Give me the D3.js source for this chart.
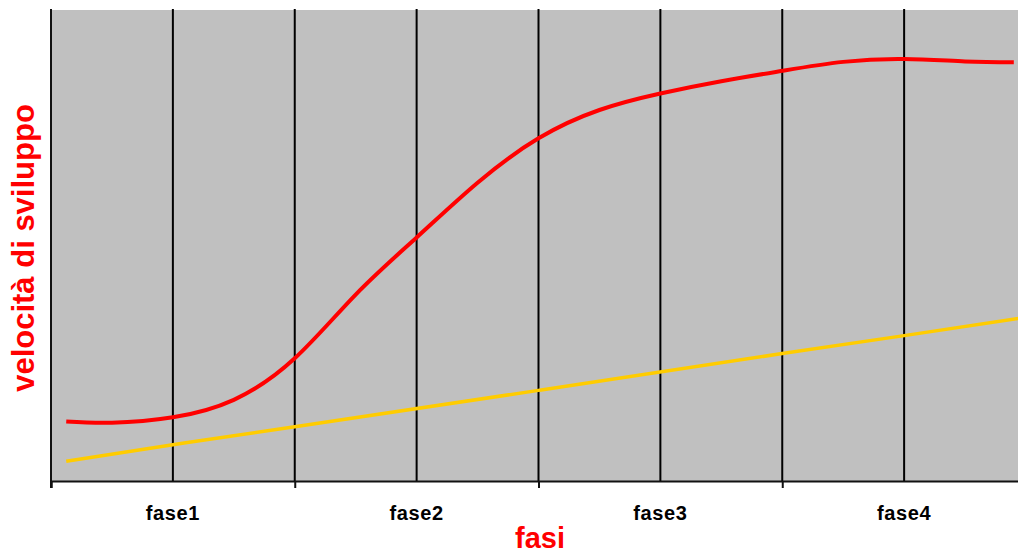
<!DOCTYPE html>
<html>
<head>
<meta charset="utf-8">
<script src="https://cdn.jsdelivr.net/npm/d3@7"></script>
<style>
  html, body { margin: 0; padding: 0; background: #ffffff; overflow: hidden; }
  svg { display: block; }
</style>
</head>
<body>
<svg id="chart" width="1018" height="553"></svg>
<script>
// Phase labels, placed at the middle of each phase band
const phases = ["fase1", "fase2", "fase3", "fase4"];
const phaseCenters = [1, 3, 5, 7];
// Band boundaries (major ticks) and inner grid positions, in half-phase units
const majorTicks = [0, 2, 4, 6];
const gridLines = [1, 2, 3, 4, 5, 6, 7];

// Development speed (red curve)
const speedX = [0.125, 0.5, 1, 1.5, 2, 2.5, 3, 3.5, 4, 4.5, 5, 5.5, 6, 6.5, 7, 7.5, 7.9];
const speedY = [12.6, 12.35, 13.5, 17.2, 26.0, 39.5, 51.6, 63.2, 72.6, 78.6, 82.1, 84.7, 86.9, 88.8, 89.4, 88.9, 88.7];

// Reference trend (yellow line)
const trendX = [0.125, 1, 2, 4, 6, 7, 8];
const trendY = [4.2, 7.7, 11.5, 19.2, 27.0, 30.8, 34.7];

const svg = d3.select("#chart");
const plotLeft = 51, plotRight = 1026, plotTop = 9, plotBottom = 481;

const x = d3.scaleLinear().domain([0, 8]).range([plotLeft, plotRight]);
const y = d3.scaleLinear().domain([0, 100]).range([plotBottom, plotTop]);

// Plot background
svg.append("rect")
  .attr("x", plotLeft).attr("y", plotTop + 1)
  .attr("width", plotRight - plotLeft).attr("height", plotBottom - plotTop - 1)
  .attr("fill", "#c0c0c0");

// Vertical grid lines
svg.append("g")
  .selectAll("line")
  .data(gridLines)
  .join("line")
  .attr("x1", d => x(d)).attr("x2", d => x(d))
  .attr("y1", plotTop).attr("y2", plotBottom)
  .attr("stroke", "#000").attr("stroke-width", 2);

// Bottom axis with ticks at phase boundaries
const xAxis = d3.axisBottom(x)
  .tickValues(majorTicks)
  .tickSize(7)
  .tickFormat("");
const gx = svg.append("g").attr("transform", `translate(0,${plotBottom})`).call(xAxis);
gx.select(".domain").attr("stroke", "#111").attr("stroke-width", 2);
gx.selectAll(".tick line").attr("stroke", "#111").attr("stroke-width", 2);

// Left axis line
svg.append("line")
  .attr("x1", plotLeft).attr("x2", plotLeft)
  .attr("y1", plotTop).attr("y2", plotBottom + 7)
  .attr("stroke", "#111").attr("stroke-width", 2);

// Phase labels
svg.append("g")
  .selectAll("text")
  .data(phases)
  .join("text")
  .attr("x", (d, i) => x(phaseCenters[i]))
  .attr("y", 520)
  .attr("text-anchor", "middle")
  .attr("font-family", "'Liberation Sans', Arial, sans-serif")
  .attr("font-weight", "bold")
  .attr("font-size", 20)
  .attr("letter-spacing", 0.6)
  .attr("fill", "#000")
  .text(d => d);

// Series lines
svg.append("clipPath").attr("id", "plot-clip")
  .append("rect").attr("x", plotLeft).attr("y", plotTop)
  .attr("width", plotRight - plotLeft).attr("height", plotBottom - plotTop);

const line = d3.line()
  .x(d => x(d[0]))
  .y(d => y(d[1]))
  .curve(d3.curveNatural);

svg.append("path")
  .datum(trendX.map((v, i) => [v, trendY[i]]))
  .attr("clip-path", "url(#plot-clip)")
  .attr("d", line)
  .attr("fill", "none")
  .attr("stroke", "#ffcc00")
  .attr("stroke-width", 3.5);

svg.append("path")
  .datum(speedX.map((v, i) => [v, speedY[i]]))
  .attr("clip-path", "url(#plot-clip)")
  .attr("d", line)
  .attr("fill", "none")
  .attr("stroke", "#ff0000")
  .attr("stroke-width", 4);

// Axis titles
svg.append("text")
  .attr("transform", "translate(34,248) rotate(-90)")
  .attr("text-anchor", "middle")
  .attr("font-family", "'Liberation Sans', Arial, sans-serif")
  .attr("font-weight", "bold")
  .attr("font-size", 31)
  .attr("fill", "#ff0000")
  .text("velocità di sviluppo");

svg.append("text")
  .attr("x", 540)
  .attr("y", 548)
  .attr("text-anchor", "middle")
  .attr("font-family", "'Liberation Sans', Arial, sans-serif")
  .attr("font-weight", "bold")
  .attr("font-size", 29)
  .attr("fill", "#ff0000")
  .text("fasi");
</script>
</body>
</html>
